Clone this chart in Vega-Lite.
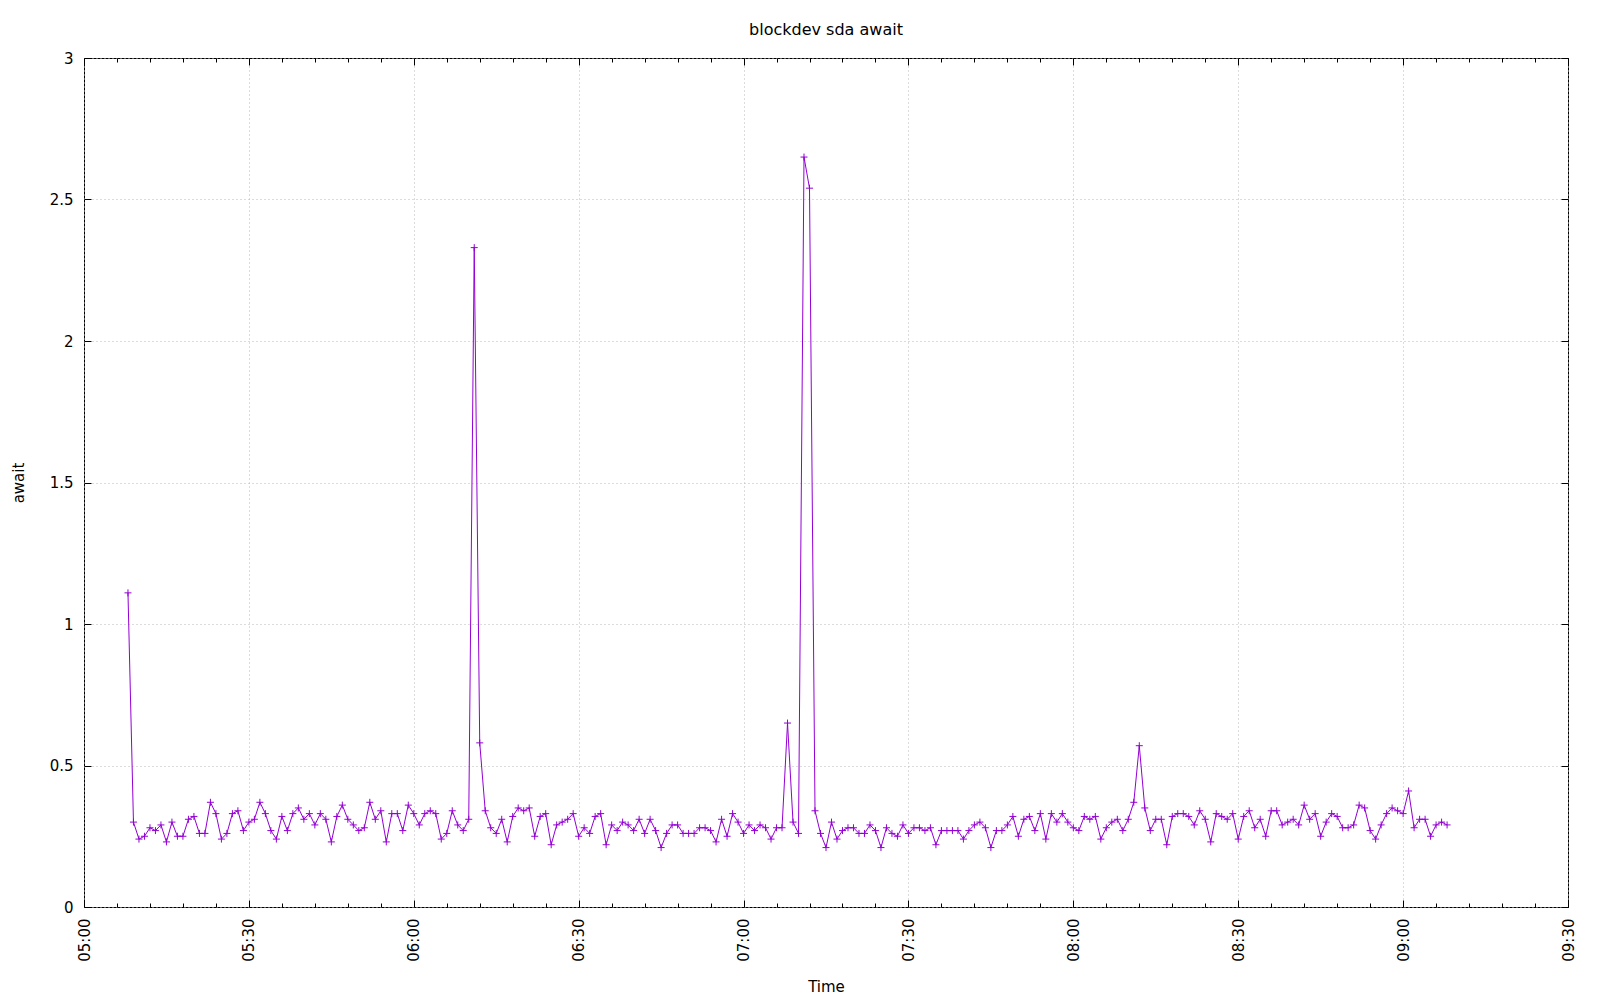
{
"$schema": "https://vega.github.io/schema/vega-lite/v6.json",
"width": 1484,
"height": 849,
"autosize": "none",
"padding": {"left": 84, "top": 58, "right": 32, "bottom": 93},
"background": "white",
"title": {"text": "blockdev sda await", "fontSize": 16, "fontWeight": "normal", "font": "DejaVu Sans", "color": "black", "anchor": "middle", "frame": "group", "offset": 13},
"config": {
  "view": {"stroke": "black", "strokeWidth": 1},
  "axis": {"labelFont": "DejaVu Sans", "labelFontSize": 15, "labelColor": "black", "titleFont": "DejaVu Sans", "titleFontSize": 15, "titleFontWeight": "normal", "titleColor": "black", "domain": false, "tickColor": "black", "tickWidth": 1}
},
"datasets": {"d": [
{"t":"2024-01-01T05:08Z","v":1.11},{"t":"2024-01-01T05:09Z","v":0.30},{"t":"2024-01-01T05:10Z","v":0.24},{"t":"2024-01-01T05:11Z","v":0.25},{"t":"2024-01-01T05:12Z","v":0.28},{"t":"2024-01-01T05:13Z","v":0.27},{"t":"2024-01-01T05:14Z","v":0.29},{"t":"2024-01-01T05:15Z","v":0.23},{"t":"2024-01-01T05:16Z","v":0.30},{"t":"2024-01-01T05:17Z","v":0.25},{"t":"2024-01-01T05:18Z","v":0.25},{"t":"2024-01-01T05:19Z","v":0.31},{"t":"2024-01-01T05:20Z","v":0.32},{"t":"2024-01-01T05:21Z","v":0.26},{"t":"2024-01-01T05:22Z","v":0.26},{"t":"2024-01-01T05:23Z","v":0.37},{"t":"2024-01-01T05:24Z","v":0.33},{"t":"2024-01-01T05:25Z","v":0.24},{"t":"2024-01-01T05:26Z","v":0.26},{"t":"2024-01-01T05:27Z","v":0.33},{"t":"2024-01-01T05:28Z","v":0.34},{"t":"2024-01-01T05:29Z","v":0.27},
{"t":"2024-01-01T05:30Z","v":0.30},{"t":"2024-01-01T05:31Z","v":0.31},{"t":"2024-01-01T05:32Z","v":0.37},{"t":"2024-01-01T05:33Z","v":0.33},{"t":"2024-01-01T05:34Z","v":0.27},{"t":"2024-01-01T05:35Z","v":0.24},{"t":"2024-01-01T05:36Z","v":0.32},{"t":"2024-01-01T05:37Z","v":0.27},{"t":"2024-01-01T05:38Z","v":0.33},{"t":"2024-01-01T05:39Z","v":0.35},{"t":"2024-01-01T05:40Z","v":0.31},{"t":"2024-01-01T05:41Z","v":0.33},{"t":"2024-01-01T05:42Z","v":0.29},{"t":"2024-01-01T05:43Z","v":0.33},{"t":"2024-01-01T05:44Z","v":0.31},{"t":"2024-01-01T05:45Z","v":0.23},{"t":"2024-01-01T05:46Z","v":0.32},{"t":"2024-01-01T05:47Z","v":0.36},{"t":"2024-01-01T05:48Z","v":0.31},{"t":"2024-01-01T05:49Z","v":0.29},{"t":"2024-01-01T05:50Z","v":0.27},{"t":"2024-01-01T05:51Z","v":0.28},{"t":"2024-01-01T05:52Z","v":0.37},{"t":"2024-01-01T05:53Z","v":0.31},{"t":"2024-01-01T05:54Z","v":0.34},{"t":"2024-01-01T05:55Z","v":0.23},{"t":"2024-01-01T05:56Z","v":0.33},{"t":"2024-01-01T05:57Z","v":0.33},{"t":"2024-01-01T05:58Z","v":0.27},{"t":"2024-01-01T05:59Z","v":0.36},
{"t":"2024-01-01T06:00Z","v":0.33},{"t":"2024-01-01T06:01Z","v":0.29},{"t":"2024-01-01T06:02Z","v":0.33},{"t":"2024-01-01T06:03Z","v":0.34},{"t":"2024-01-01T06:04Z","v":0.33},{"t":"2024-01-01T06:05Z","v":0.24},{"t":"2024-01-01T06:06Z","v":0.26},{"t":"2024-01-01T06:07Z","v":0.34},{"t":"2024-01-01T06:08Z","v":0.29},{"t":"2024-01-01T06:09Z","v":0.27},{"t":"2024-01-01T06:10Z","v":0.31},{"t":"2024-01-01T06:11Z","v":2.33},{"t":"2024-01-01T06:12Z","v":0.58},{"t":"2024-01-01T06:13Z","v":0.34},{"t":"2024-01-01T06:14Z","v":0.28},{"t":"2024-01-01T06:15Z","v":0.26},{"t":"2024-01-01T06:16Z","v":0.31},{"t":"2024-01-01T06:17Z","v":0.23},{"t":"2024-01-01T06:18Z","v":0.32},{"t":"2024-01-01T06:19Z","v":0.35},{"t":"2024-01-01T06:20Z","v":0.34},{"t":"2024-01-01T06:21Z","v":0.35},{"t":"2024-01-01T06:22Z","v":0.25},{"t":"2024-01-01T06:23Z","v":0.32},{"t":"2024-01-01T06:24Z","v":0.33},{"t":"2024-01-01T06:25Z","v":0.22},{"t":"2024-01-01T06:26Z","v":0.29},{"t":"2024-01-01T06:27Z","v":0.30},{"t":"2024-01-01T06:28Z","v":0.31},{"t":"2024-01-01T06:29Z","v":0.33},
{"t":"2024-01-01T06:30Z","v":0.25},{"t":"2024-01-01T06:31Z","v":0.28},{"t":"2024-01-01T06:32Z","v":0.26},{"t":"2024-01-01T06:33Z","v":0.32},{"t":"2024-01-01T06:34Z","v":0.33},{"t":"2024-01-01T06:35Z","v":0.22},{"t":"2024-01-01T06:36Z","v":0.29},{"t":"2024-01-01T06:37Z","v":0.27},{"t":"2024-01-01T06:38Z","v":0.30},{"t":"2024-01-01T06:39Z","v":0.29},{"t":"2024-01-01T06:40Z","v":0.27},{"t":"2024-01-01T06:41Z","v":0.31},{"t":"2024-01-01T06:42Z","v":0.26},{"t":"2024-01-01T06:43Z","v":0.31},{"t":"2024-01-01T06:44Z","v":0.27},{"t":"2024-01-01T06:45Z","v":0.21},{"t":"2024-01-01T06:46Z","v":0.26},{"t":"2024-01-01T06:47Z","v":0.29},{"t":"2024-01-01T06:48Z","v":0.29},{"t":"2024-01-01T06:49Z","v":0.26},{"t":"2024-01-01T06:50Z","v":0.26},{"t":"2024-01-01T06:51Z","v":0.26},{"t":"2024-01-01T06:52Z","v":0.28},{"t":"2024-01-01T06:53Z","v":0.28},{"t":"2024-01-01T06:54Z","v":0.27},{"t":"2024-01-01T06:55Z","v":0.23},{"t":"2024-01-01T06:56Z","v":0.31},{"t":"2024-01-01T06:57Z","v":0.25},{"t":"2024-01-01T06:58Z","v":0.33},{"t":"2024-01-01T06:59Z","v":0.30},
{"t":"2024-01-01T07:00Z","v":0.26},{"t":"2024-01-01T07:01Z","v":0.29},{"t":"2024-01-01T07:02Z","v":0.27},{"t":"2024-01-01T07:03Z","v":0.29},{"t":"2024-01-01T07:04Z","v":0.28},{"t":"2024-01-01T07:05Z","v":0.24},{"t":"2024-01-01T07:06Z","v":0.28},{"t":"2024-01-01T07:07Z","v":0.28},{"t":"2024-01-01T07:08Z","v":0.65},{"t":"2024-01-01T07:09Z","v":0.30},{"t":"2024-01-01T07:10Z","v":0.26},{"t":"2024-01-01T07:11Z","v":2.65},{"t":"2024-01-01T07:12Z","v":2.54},{"t":"2024-01-01T07:13Z","v":0.34},{"t":"2024-01-01T07:14Z","v":0.26},{"t":"2024-01-01T07:15Z","v":0.21},{"t":"2024-01-01T07:16Z","v":0.30},{"t":"2024-01-01T07:17Z","v":0.24},{"t":"2024-01-01T07:18Z","v":0.27},{"t":"2024-01-01T07:19Z","v":0.28},{"t":"2024-01-01T07:20Z","v":0.28},{"t":"2024-01-01T07:21Z","v":0.26},{"t":"2024-01-01T07:22Z","v":0.26},{"t":"2024-01-01T07:23Z","v":0.29},{"t":"2024-01-01T07:24Z","v":0.27},{"t":"2024-01-01T07:25Z","v":0.21},{"t":"2024-01-01T07:26Z","v":0.28},{"t":"2024-01-01T07:27Z","v":0.26},{"t":"2024-01-01T07:28Z","v":0.25},{"t":"2024-01-01T07:29Z","v":0.29},
{"t":"2024-01-01T07:30Z","v":0.26},{"t":"2024-01-01T07:31Z","v":0.28},{"t":"2024-01-01T07:32Z","v":0.28},{"t":"2024-01-01T07:33Z","v":0.27},{"t":"2024-01-01T07:34Z","v":0.28},{"t":"2024-01-01T07:35Z","v":0.22},{"t":"2024-01-01T07:36Z","v":0.27},{"t":"2024-01-01T07:37Z","v":0.27},{"t":"2024-01-01T07:38Z","v":0.27},{"t":"2024-01-01T07:39Z","v":0.27},{"t":"2024-01-01T07:40Z","v":0.24},{"t":"2024-01-01T07:41Z","v":0.27},{"t":"2024-01-01T07:42Z","v":0.29},{"t":"2024-01-01T07:43Z","v":0.30},{"t":"2024-01-01T07:44Z","v":0.28},{"t":"2024-01-01T07:45Z","v":0.21},{"t":"2024-01-01T07:46Z","v":0.27},{"t":"2024-01-01T07:47Z","v":0.27},{"t":"2024-01-01T07:48Z","v":0.29},{"t":"2024-01-01T07:49Z","v":0.32},{"t":"2024-01-01T07:50Z","v":0.25},{"t":"2024-01-01T07:51Z","v":0.31},{"t":"2024-01-01T07:52Z","v":0.32},{"t":"2024-01-01T07:53Z","v":0.27},{"t":"2024-01-01T07:54Z","v":0.33},{"t":"2024-01-01T07:55Z","v":0.24},{"t":"2024-01-01T07:56Z","v":0.33},{"t":"2024-01-01T07:57Z","v":0.30},{"t":"2024-01-01T07:58Z","v":0.33},{"t":"2024-01-01T07:59Z","v":0.30},
{"t":"2024-01-01T08:00Z","v":0.28},{"t":"2024-01-01T08:01Z","v":0.27},{"t":"2024-01-01T08:02Z","v":0.32},{"t":"2024-01-01T08:03Z","v":0.31},{"t":"2024-01-01T08:04Z","v":0.32},{"t":"2024-01-01T08:05Z","v":0.24},{"t":"2024-01-01T08:06Z","v":0.28},{"t":"2024-01-01T08:07Z","v":0.30},{"t":"2024-01-01T08:08Z","v":0.31},{"t":"2024-01-01T08:09Z","v":0.27},{"t":"2024-01-01T08:10Z","v":0.31},{"t":"2024-01-01T08:11Z","v":0.37},{"t":"2024-01-01T08:12Z","v":0.57},{"t":"2024-01-01T08:13Z","v":0.35},{"t":"2024-01-01T08:14Z","v":0.27},{"t":"2024-01-01T08:15Z","v":0.31},{"t":"2024-01-01T08:16Z","v":0.31},{"t":"2024-01-01T08:17Z","v":0.22},{"t":"2024-01-01T08:18Z","v":0.32},{"t":"2024-01-01T08:19Z","v":0.33},{"t":"2024-01-01T08:20Z","v":0.33},{"t":"2024-01-01T08:21Z","v":0.32},{"t":"2024-01-01T08:22Z","v":0.29},{"t":"2024-01-01T08:23Z","v":0.34},{"t":"2024-01-01T08:24Z","v":0.31},{"t":"2024-01-01T08:25Z","v":0.23},{"t":"2024-01-01T08:26Z","v":0.33},{"t":"2024-01-01T08:27Z","v":0.32},{"t":"2024-01-01T08:28Z","v":0.31},{"t":"2024-01-01T08:29Z","v":0.33},
{"t":"2024-01-01T08:30Z","v":0.24},{"t":"2024-01-01T08:31Z","v":0.32},{"t":"2024-01-01T08:32Z","v":0.34},{"t":"2024-01-01T08:33Z","v":0.28},{"t":"2024-01-01T08:34Z","v":0.31},{"t":"2024-01-01T08:35Z","v":0.25},{"t":"2024-01-01T08:36Z","v":0.34},{"t":"2024-01-01T08:37Z","v":0.34},{"t":"2024-01-01T08:38Z","v":0.29},{"t":"2024-01-01T08:39Z","v":0.30},{"t":"2024-01-01T08:40Z","v":0.31},{"t":"2024-01-01T08:41Z","v":0.29},{"t":"2024-01-01T08:42Z","v":0.36},{"t":"2024-01-01T08:43Z","v":0.31},{"t":"2024-01-01T08:44Z","v":0.33},{"t":"2024-01-01T08:45Z","v":0.25},{"t":"2024-01-01T08:46Z","v":0.30},{"t":"2024-01-01T08:47Z","v":0.33},{"t":"2024-01-01T08:48Z","v":0.32},{"t":"2024-01-01T08:49Z","v":0.28},{"t":"2024-01-01T08:50Z","v":0.28},{"t":"2024-01-01T08:51Z","v":0.29},{"t":"2024-01-01T08:52Z","v":0.36},{"t":"2024-01-01T08:53Z","v":0.35},{"t":"2024-01-01T08:54Z","v":0.27},{"t":"2024-01-01T08:55Z","v":0.24},{"t":"2024-01-01T08:56Z","v":0.29},{"t":"2024-01-01T08:57Z","v":0.33},{"t":"2024-01-01T08:58Z","v":0.35},{"t":"2024-01-01T08:59Z","v":0.34},
{"t":"2024-01-01T09:00Z","v":0.33},{"t":"2024-01-01T09:01Z","v":0.41},{"t":"2024-01-01T09:02Z","v":0.28},{"t":"2024-01-01T09:03Z","v":0.31},{"t":"2024-01-01T09:04Z","v":0.31},{"t":"2024-01-01T09:05Z","v":0.25},{"t":"2024-01-01T09:06Z","v":0.29},{"t":"2024-01-01T09:07Z","v":0.30},{"t":"2024-01-01T09:08Z","v":0.29}
]},
"data": {"name": "d"},
"resolve": {"axis": {"x": "independent", "y": "independent"}},
"layer": [
  {
    "mark": {"type": "line", "color": "#9400D3", "strokeWidth": 1},
    "encoding": {
      "x": {"field": "t", "type": "temporal",
        "scale": {"type": "utc", "domain": [1704085200000, 1704101400000]},
        "axis": {"orient": "bottom", "title": "Time", "format": "%H:%M", "values": [1704085200000, 1704087000000, 1704088800000, 1704090600000, 1704092400000, 1704094200000, 1704096000000, 1704097800000, 1704099600000, 1704101400000], "labelAngle": -90, "labelAlign": "right", "labelBaseline": "middle", "labelPadding": 11, "labelFlush": false, "labelOverlap": false, "ticks": false, "grid": true, "gridColor": "#b8b8b8", "gridDash": [1, 3], "gridWidth": 1, "titleY": 79, "titleBaseline": "middle"}},
      "y": {"field": "v", "type": "quantitative",
        "scale": {"domain": [0, 3], "nice": false},
        "axis": {"orient": "left", "title": "await", "values": [0, 0.5, 1, 1.5, 2, 2.5, 3], "format": ".1~f", "labelPadding": 11, "labelFlush": false, "labelOverlap": false, "ticks": false, "grid": true, "gridColor": "#b8b8b8", "gridDash": [1, 3], "gridWidth": 1, "titleX": -66, "titleBaseline": "middle"}}
    }
  },
  {
    "mark": {"type": "point", "shape": "M-1,0L1,0M0,-1L0,1", "size": 49, "filled": false, "color": "#9400D3", "strokeWidth": 1, "opacity": 1},
    "encoding": {
      "x": {"field": "t", "type": "temporal",
        "axis": {"orient": "bottom", "title": null, "labels": false, "grid": false, "tickSize": -4, "values": [1704085200000, 1704085560000, 1704085920000, 1704086280000, 1704086640000, 1704087000000, 1704087360000, 1704087720000, 1704088080000, 1704088440000, 1704088800000, 1704089160000, 1704089520000, 1704089880000, 1704090240000, 1704090600000, 1704090960000, 1704091320000, 1704091680000, 1704092040000, 1704092400000, 1704092760000, 1704093120000, 1704093480000, 1704093840000, 1704094200000, 1704094560000, 1704094920000, 1704095280000, 1704095640000, 1704096000000, 1704096360000, 1704096720000, 1704097080000, 1704097440000, 1704097800000, 1704098160000, 1704098520000, 1704098880000, 1704099240000, 1704099600000, 1704099960000, 1704100320000, 1704100680000, 1704101040000, 1704101400000]}},
      "y": {"field": "v", "type": "quantitative",
        "axis": {"orient": "left", "title": null, "labels": false, "grid": false, "values": [0, 0.5, 1, 1.5, 2, 2.5, 3], "tickSize": -7}}
    }
  },
  {
    "mark": {"type": "point", "shape": "M-1,0L1,0M0,-1L0,1", "size": 49, "filled": false, "color": "#9400D3", "strokeWidth": 1, "opacity": 0},
    "encoding": {
      "x": {"field": "t", "type": "temporal",
        "axis": {"orient": "top", "title": null, "labels": false, "grid": false, "tickSize": -4, "values": [1704085200000, 1704085560000, 1704085920000, 1704086280000, 1704086640000, 1704087000000, 1704087360000, 1704087720000, 1704088080000, 1704088440000, 1704088800000, 1704089160000, 1704089520000, 1704089880000, 1704090240000, 1704090600000, 1704090960000, 1704091320000, 1704091680000, 1704092040000, 1704092400000, 1704092760000, 1704093120000, 1704093480000, 1704093840000, 1704094200000, 1704094560000, 1704094920000, 1704095280000, 1704095640000, 1704096000000, 1704096360000, 1704096720000, 1704097080000, 1704097440000, 1704097800000, 1704098160000, 1704098520000, 1704098880000, 1704099240000, 1704099600000, 1704099960000, 1704100320000, 1704100680000, 1704101040000, 1704101400000]}},
      "y": {"field": "v", "type": "quantitative",
        "axis": {"orient": "right", "title": null, "labels": false, "grid": false, "values": [0, 0.5, 1, 1.5, 2, 2.5, 3], "tickSize": -7}}
    }
  },
  {
    "mark": {"type": "point", "shape": "M-1,0L1,0M0,-1L0,1", "size": 49, "filled": false, "color": "#9400D3", "strokeWidth": 1, "opacity": 0},
    "encoding": {
      "x": {"field": "t", "type": "temporal",
        "axis": {"orient": "bottom", "title": null, "labels": false, "grid": false, "tickSize": -7, "values": [1704085200000, 1704087000000, 1704088800000, 1704090600000, 1704092400000, 1704094200000, 1704096000000, 1704097800000, 1704099600000, 1704101400000]}},
      "y": {"field": "v", "type": "quantitative", "axis": null}
    }
  },
  {
    "mark": {"type": "point", "shape": "M-1,0L1,0M0,-1L0,1", "size": 49, "filled": false, "color": "#9400D3", "strokeWidth": 1, "opacity": 0},
    "encoding": {
      "x": {"field": "t", "type": "temporal",
        "axis": {"orient": "top", "title": null, "labels": false, "grid": false, "tickSize": -7, "values": [1704085200000, 1704087000000, 1704088800000, 1704090600000, 1704092400000, 1704094200000, 1704096000000, 1704097800000, 1704099600000, 1704101400000]}},
      "y": {"field": "v", "type": "quantitative", "axis": null}
    }
  }
]
}
